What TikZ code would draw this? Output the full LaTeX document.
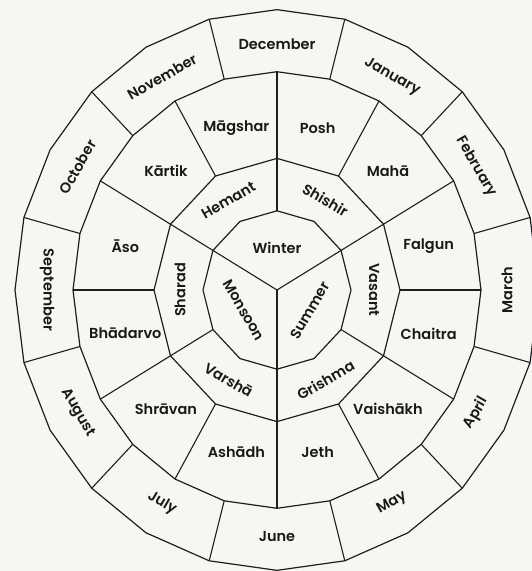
\documentclass[tikz,border=0pt]{standalone}
\usepackage{fontspec}
\setmainfont{Poppins}[UprightFont=* SemiBold]
\usetikzlibrary{calc}
\definecolor{paper}{RGB}{248,246,243}
\definecolor{inkline}{RGB}{30,30,30}
\definecolor{inktext}{RGB}{25,25,25}
\tikzset{
  ring/.style    = {draw=inkline, line width=1.2pt, line join=round},
  divider/.style = {draw=inkline, line width=1.1pt},
  label/.style   = {text=inktext, inner sep=0pt, font=\fontsize{14.5}{15}\selectfont},
  month/.style   = {label},
  gmonth/.style  = {label},
  season/.style  = {label},
}

\begin{document}
\begin{tikzpicture}
  \fill[paper] (-277pt,-281pt) rectangle (255pt,290pt);
  \useasboundingbox (-277pt,-281pt) rectangle (255pt,290pt);

  \begin{scope}[yscale=1.07]
    % rings
    \draw[ring] (0:262pt) \foreach \a in {15,30,...,345} { -- (\a:262pt) } -- cycle;
    \draw[ring] (0:204pt) \foreach \a in {15,30,...,345} { -- (\a:204pt) } -- cycle;
    \draw[ring] (0:123pt) \foreach \a in {30,60,...,330} { -- (\a:123pt) } -- cycle;
    \draw[ring] (0:74pt) \foreach \a in {30,60,...,330} { -- (\a:74pt) } -- cycle;

    % dividers
    \coordinate (hub) at (0,0);
    \foreach \a in {15,45,...,345} \draw[divider] (\a:204pt) -- (\a:262pt);
    \foreach \a in {0,30,...,330} \draw[divider] (\a:123pt) -- (\a:204pt);
    \foreach \a in {30,90,...,330} \draw[divider] (\a:74pt) -- (\a:123pt);
    \foreach \a in {30,150,270} \draw[divider] (hub) -- (\a:74pt);

    % months
    \node[month] (dec) at (90:230pt) {December};
    \node[month, rotate=-30] (jan) at (60:230pt) {January};
    \node[month, rotate=-60] (feb) at (30:230pt) {February};
    \node[month, rotate=90] (mar) at (0:230pt) {March};
    \node[month, rotate=60] (apr) at (-30:230pt) {April};
    \node[month, rotate=30] (may) at (-60:230pt) {May};
    \node[month] (jun) at (-90:230pt) {June};
    \node[month, rotate=-30] (jul) at (-120:230pt) {July};
    \node[month, rotate=-60] (aug) at (-150:230pt) {August};
    \node[month, rotate=-90] (sep) at (180:230pt) {September};
    \node[month, rotate=60] (oct) at (150:230pt) {October};
    \node[month, rotate=30] (nov) at (120:230pt) {November};

    % gujarati months
    \node[gmonth] (posh) at (75:157pt) {Posh};
    \node[gmonth] (maha) at (45:157pt) {Mahā};
    \node[gmonth] (falgun) at (15:157pt) {Falgun};
    \node[gmonth] (chaitra) at (-15:157pt) {Chaitra};
    \node[gmonth] (vaishakh) at (-45:157pt) {Vaishākh};
    \node[gmonth] (jeth) at (-75:157pt) {Jeth};
    \node[gmonth] (ashadh) at (-105:157pt) {Ashādh};
    \node[gmonth] (shravan) at (-135:157pt) {Shrāvan};
    \node[gmonth] (bhadarvo) at (-165:157pt) {Bhādarvo};
    \node[gmonth] (aso) at (165:157pt) {Āso};
    \node[gmonth] (kartik) at (135:157pt) {Kārtik};
    \node[gmonth] (magshar) at (105:157pt) {Māgshar};

    % seasons
    \node[season, rotate=30] (hemant) at (120:97pt) {Hemant};
    \node[season, rotate=-30] (shishir) at (60:97pt) {Shishir};
    \node[season, rotate=-90] (vasant) at (0:97pt) {Vasant};
    \node[season, rotate=30] (grishma) at (-60:97pt) {Grishma};
    \node[season, rotate=-30] (varsha) at (-120:97pt) {Varshā};
    \node[season, rotate=90] (sharad) at (180:97pt) {Sharad};

    \node[season] (winter) at (90:39pt) {Winter};
    \node[season, rotate=-60] (monsoon) at (210:38pt) {Monsoon};
    \node[season, rotate=60] (summer) at (330:38pt) {Summer};
  \end{scope}
\end{tikzpicture}
\end{document}
